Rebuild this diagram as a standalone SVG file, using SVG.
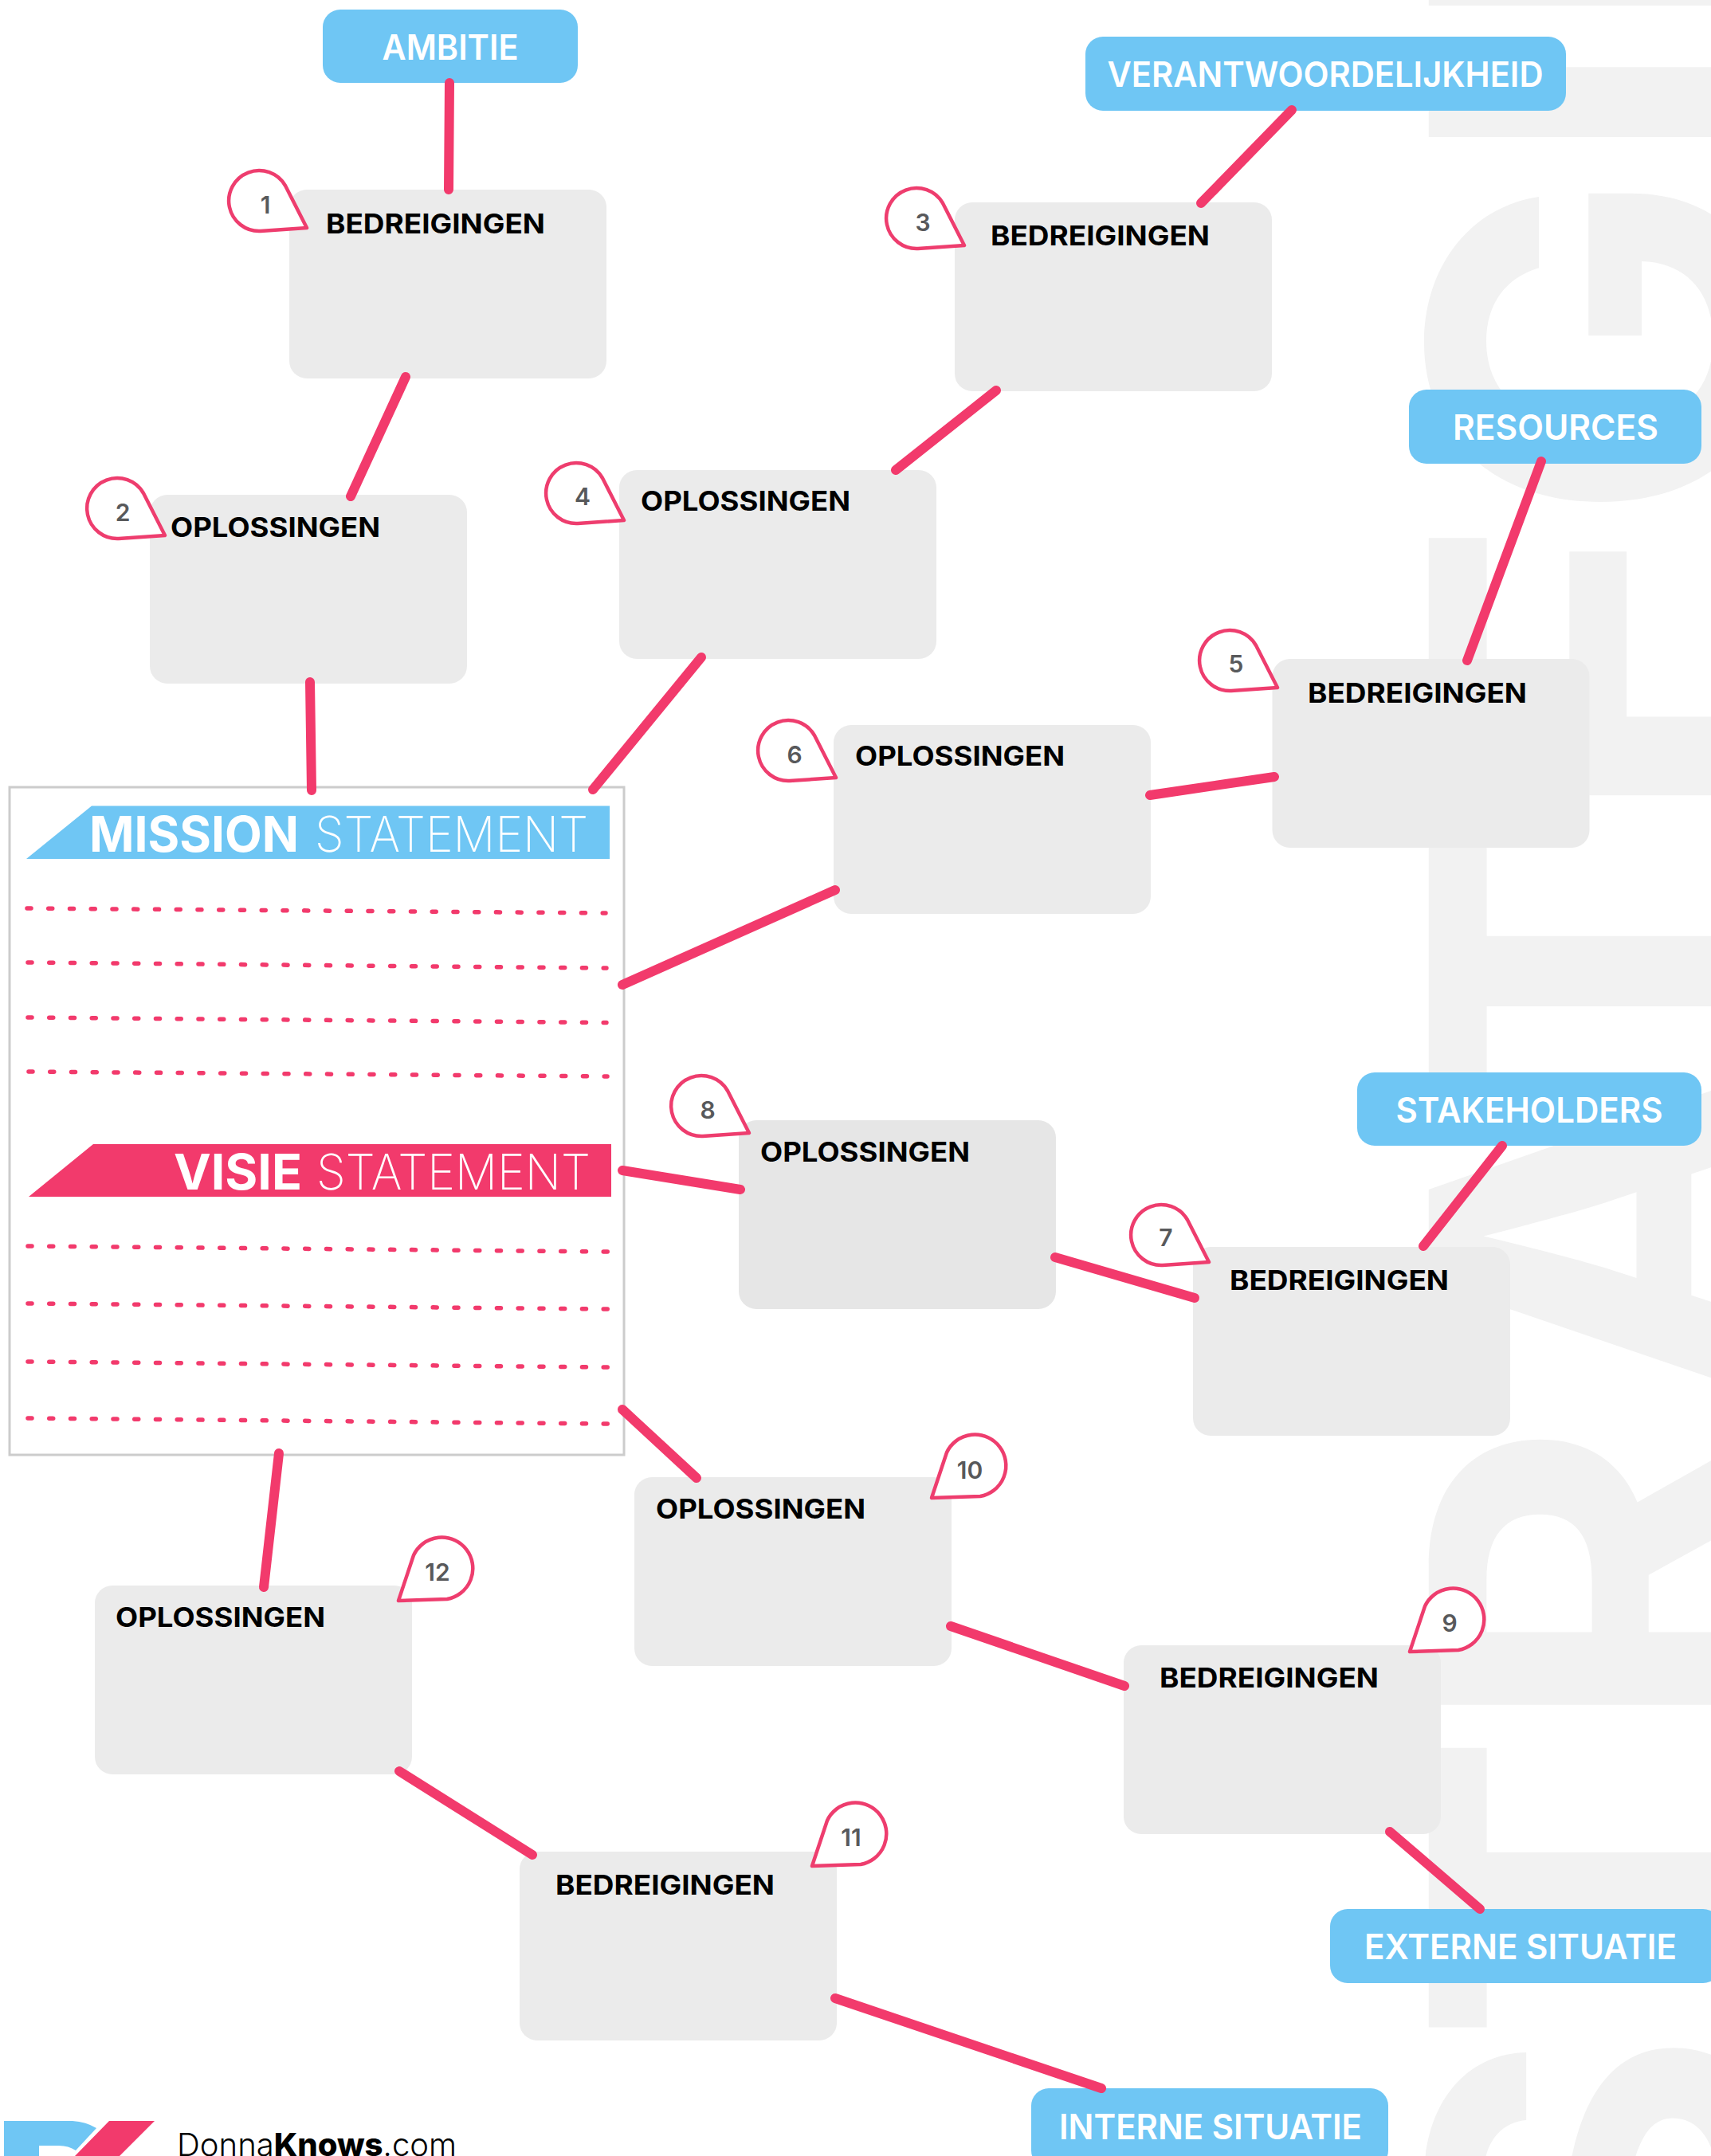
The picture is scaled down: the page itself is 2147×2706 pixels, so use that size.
<svg xmlns="http://www.w3.org/2000/svg" width="2147" height="2706" viewBox="0 0 2147 2706">
<style>
text{font-family:"Inter","Liberation Sans",sans-serif}
.bg{font-size:590px;font-weight:700;fill:#f2f2f2}
.box{fill:#ebebeb}
.pill{fill:#6fc6f4}
.lbl{font-size:34px;font-weight:700;fill:#000}
.plbl{font-size:44px;font-weight:600;fill:#fff;text-anchor:middle}
.pin{fill:#fff;stroke:#ee3d6e;stroke-width:4.5;stroke-linejoin:round}
.num{font-size:30px;font-weight:600;fill:#58595b;text-anchor:middle}
.c{stroke:#f23a6c;stroke-width:12;stroke-linecap:round;fill:none}
.d{stroke:#f23a6c;stroke-width:5.5;stroke-linecap:round;stroke-dasharray:5 21.75;fill:none}
.h{font-size:62px;fill:#fff}
.b{font-weight:700}
.l{font-weight:200}
</style>
<defs>
<path id="pinR" class="pin" d="M60,34 L2,38 A38,38 0 1 1 33,-19 Z"/>
<path id="pinL" class="pin" d="M-55,41 L6,39 A39,39 0 1 0 -36,-16 Z"/>
<rect id="bx" class="box" width="398" height="237" rx="22"/>
</defs>
<rect width="2147" height="2706" fill="#fff"/>
<text class="bg" transform="translate(2222,0) rotate(-90)" y="0"><tspan x="-2932">S</tspan><tspan x="-2566">T</tspan><tspan x="-2180" textLength="402" lengthAdjust="spacingAndGlyphs">R</tspan><tspan x="-1769">A</tspan><tspan x="-1416">T</tspan><tspan x="-1042" textLength="403" lengthAdjust="spacingAndGlyphs">E</tspan><tspan x="-657">G</tspan><tspan x="-211">I</tspan><tspan x="-46">E</tspan></text>

<g id="frame-group">
<rect x="12" y="988" width="771" height="838" fill="#fff" stroke="#ccc" stroke-width="3"/>
<polygon points="115,1011.5 765,1011.5 765,1078 33,1078" fill="#6fc6f4"/>
<text class="h" y="1068.5"><tspan class="b" x="112" textLength="263" lengthAdjust="spacingAndGlyphs">MISSION</tspan><tspan class="l" x="395" textLength="343" lengthAdjust="spacingAndGlyphs">STATEMENT</tspan></text>
<line class="d" x1="34" y1="1140" x2="760" y2="1146"/>
<line class="d" x1="35" y1="1208" x2="761" y2="1215"/>
<line class="d" x1="35" y1="1277" x2="761" y2="1283.5"/>
<line class="d" x1="36" y1="1345" x2="762" y2="1351"/>
<polygon points="117,1436 767,1436 767,1502 36,1502" fill="#f23a6c"/>
<text class="h" y="1493"><tspan class="b" x="218" textLength="161" lengthAdjust="spacingAndGlyphs">VISIE</tspan><tspan class="l" x="397" textLength="344" lengthAdjust="spacingAndGlyphs">STATEMENT</tspan></text>
<line class="d" x1="35" y1="1564" x2="765" y2="1571"/>
<line class="d" x1="35" y1="1636" x2="765" y2="1643"/>
<line class="d" x1="35" y1="1709" x2="765" y2="1716"/>
<line class="d" x1="35" y1="1780" x2="765" y2="1787"/>
</g>

<g id="node-ambitie"><rect class="pill" x="405" y="12" width="320" height="92" rx="22"/><text class="plbl" x="565" y="75" textLength="171" lengthAdjust="spacingAndGlyphs">AMBITIE</text></g>
<g id="node-verantwoordelijkheid"><rect class="pill" x="1362" y="46" width="603" height="93" rx="22"/><text class="plbl" x="1663" y="109" textLength="547" lengthAdjust="spacingAndGlyphs">VERANTWOORDELIJKHEID</text></g>
<g id="node-resources"><rect class="pill" x="1768" y="489" width="367" height="93" rx="22"/><text class="plbl" x="1952" y="552" textLength="258" lengthAdjust="spacingAndGlyphs">RESOURCES</text></g>
<g id="node-stakeholders"><rect class="pill" x="1703" y="1346" width="432" height="92" rx="22"/><text class="plbl" x="1919" y="1409" textLength="335" lengthAdjust="spacingAndGlyphs">STAKEHOLDERS</text></g>
<g id="node-externe"><rect class="pill" x="1669" y="2396" width="490" height="93" rx="22"/><text class="plbl" x="1908" y="2459" textLength="392" lengthAdjust="spacingAndGlyphs">EXTERNE SITUATIE</text></g>
<g id="node-interne"><rect class="pill" x="1294" y="2621" width="448" height="100" rx="22"/><text class="plbl" x="1519" y="2685" textLength="380" lengthAdjust="spacingAndGlyphs">INTERNE SITUATIE</text></g>

<g id="node-1"><use href="#bx" x="363" y="238"/><text class="lbl" x="409" y="293" textLength="275" lengthAdjust="spacingAndGlyphs">BEDREIGINGEN</text></g>
<g id="node-2"><use href="#bx" x="188" y="621"/><text class="lbl" x="214" y="674" textLength="263" lengthAdjust="spacingAndGlyphs">OPLOSSINGEN</text></g>
<g id="node-3"><use href="#bx" x="1198" y="254"/><text class="lbl" x="1243" y="308" textLength="275" lengthAdjust="spacingAndGlyphs">BEDREIGINGEN</text></g>
<g id="node-4"><use href="#bx" x="777" y="590"/><text class="lbl" x="804" y="641" textLength="263" lengthAdjust="spacingAndGlyphs">OPLOSSINGEN</text></g>
<g id="node-5"><use href="#bx" x="1596.5" y="827"/><text class="lbl" x="1641" y="882" textLength="275" lengthAdjust="spacingAndGlyphs">BEDREIGINGEN</text></g>
<g id="node-6"><use href="#bx" x="1046" y="910"/><text class="lbl" x="1073" y="961" textLength="263" lengthAdjust="spacingAndGlyphs">OPLOSSINGEN</text></g>
<g id="node-7"><use href="#bx" x="1497" y="1565"/><text class="lbl" x="1543" y="1619" textLength="275" lengthAdjust="spacingAndGlyphs">BEDREIGINGEN</text></g>
<g id="node-8"><rect x="927" y="1406" width="398" height="237" rx="22" fill="#e6e6e6"/><text class="lbl" x="954" y="1458" textLength="263" lengthAdjust="spacingAndGlyphs">OPLOSSINGEN</text></g>
<g id="node-9"><use href="#bx" x="1410" y="2065"/><text class="lbl" x="1455" y="2118" textLength="275" lengthAdjust="spacingAndGlyphs">BEDREIGINGEN</text></g>
<g id="node-10"><use href="#bx" x="796" y="1854"/><text class="lbl" x="823" y="1906" textLength="263" lengthAdjust="spacingAndGlyphs">OPLOSSINGEN</text></g>
<g id="node-11"><use href="#bx" x="652" y="2324"/><text class="lbl" x="697" y="2378" textLength="275" lengthAdjust="spacingAndGlyphs">BEDREIGINGEN</text></g>
<g id="node-12"><use href="#bx" x="119" y="1990"/><text class="lbl" x="145" y="2042" textLength="263" lengthAdjust="spacingAndGlyphs">OPLOSSINGEN</text></g>

<g id="connectors">
<line class="c" x1="564" y1="104" x2="563" y2="238"/>
<line class="c" x1="1621" y1="138" x2="1507" y2="255"/>
<line class="c" x1="509" y1="473" x2="440" y2="623"/>
<line class="c" x1="1250" y1="490" x2="1124" y2="590"/>
<line class="c" x1="389" y1="856" x2="391" y2="992"/>
<line class="c" x1="880" y1="825" x2="744" y2="991"/>
<line class="c" x1="1934" y1="579" x2="1841" y2="829"/>
<line class="c" x1="1599" y1="975" x2="1443" y2="998"/>
<line class="c" x1="1048" y1="1117" x2="781" y2="1236"/>
<line class="c" x1="781" y1="1469" x2="929" y2="1493"/>
<line class="c" x1="1324" y1="1578" x2="1499" y2="1629"/>
<line class="c" x1="1885" y1="1438" x2="1786" y2="1564"/>
<line class="c" x1="781" y1="1769" x2="874" y2="1855"/>
<line class="c" x1="1193" y1="2041" x2="1411" y2="2116"/>
<line class="c" x1="1744" y1="2299" x2="1857" y2="2396"/>
<line class="c" x1="350" y1="1824" x2="331" y2="1992"/>
<line class="c" x1="501" y1="2223" x2="668" y2="2328"/>
<line class="c" x1="1048" y1="2508" x2="1382" y2="2621"/>
</g>

<g id="pin-1"><use href="#pinR" x="325" y="252"/><text class="num" x="333" y="268">1</text></g>
<g id="pin-2"><use href="#pinR" x="147" y="638"/><text class="num" x="154" y="654">2</text></g>
<g id="pin-3"><use href="#pinR" x="1150" y="274"/><text class="num" x="1158" y="290">3</text></g>
<g id="pin-4"><use href="#pinR" x="723" y="619"/><text class="num" x="731" y="634">4</text></g>
<g id="pin-5"><use href="#pinR" x="1543" y="829"/><text class="num" x="1551" y="844">5</text></g>
<g id="pin-6"><use href="#pinR" x="989" y="942"/><text class="num" x="997" y="958">6</text></g>
<g id="pin-7"><use href="#pinR" x="1457" y="1550"/><text class="num" x="1463" y="1564">7</text></g>
<g id="pin-8"><use href="#pinR" x="880" y="1388"/><text class="num" x="888" y="1404">8</text></g>
<g id="pin-9"><use href="#pinL" x="1824" y="2032"/><text class="num" x="1819" y="2048">9</text></g>
<g id="pin-10"><use href="#pinL" x="1224" y="1839"/><text class="num" x="1217" y="1856">10</text></g>
<g id="pin-11"><use href="#pinL" x="1074" y="2301"/><text class="num" x="1068" y="2317">11</text></g>
<g id="pin-12"><use href="#pinL" x="555" y="1968"/><text class="num" x="549" y="1984">12</text></g>

<g id="logo">
<path d="M5,2662 H91 Q108,2663 121,2671 L95,2699 Q86,2693 74,2693 H49 V2706 H5 Z" fill="#6fc6f4"/>
<polygon points="137,2662 194,2662 150,2706 94,2706" fill="#f23a6c"/>
<text x="222" y="2706" font-size="40" fill="#000" textLength="351" lengthAdjust="spacingAndGlyphs"><tspan font-weight="300">Donna</tspan><tspan font-weight="800">Knows</tspan><tspan font-weight="300">.com</tspan></text>
</g>
</svg>
